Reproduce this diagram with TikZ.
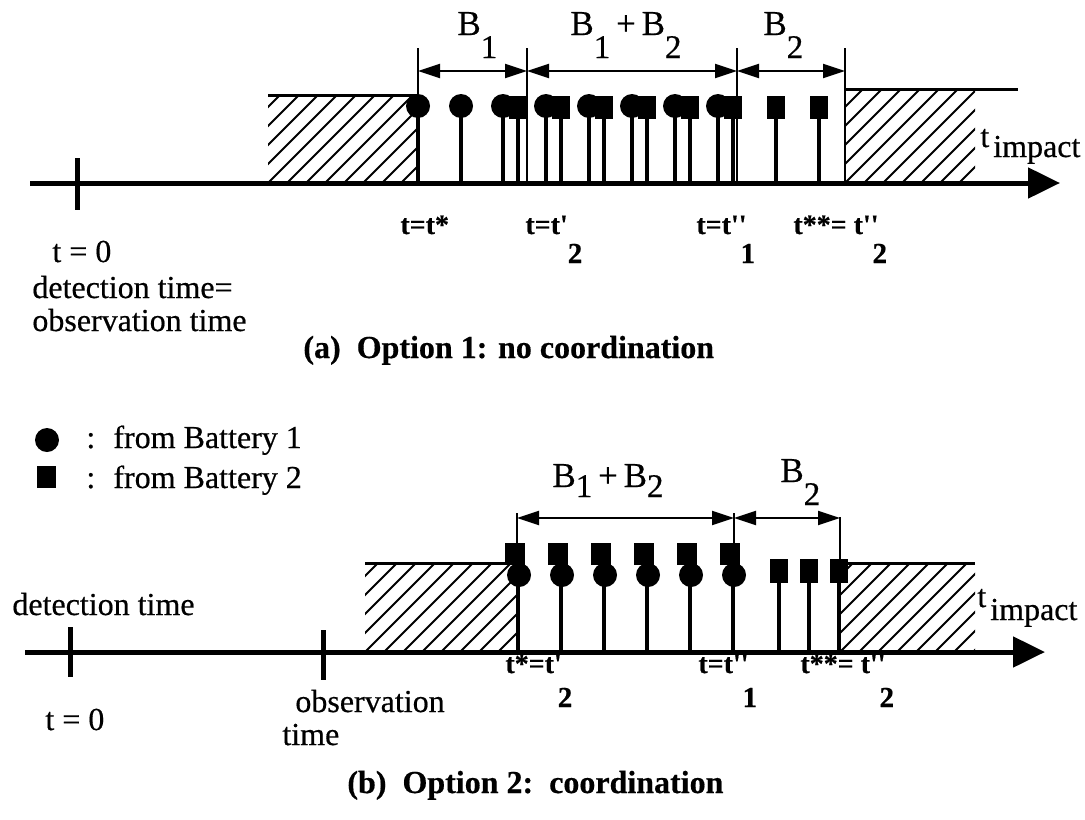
\documentclass[tikz,border=0pt]{standalone}
\usepackage{fontspec}
\setmainfont{Liberation Serif}[FakeBold=0.5]
\usetikzlibrary{arrows.meta}
\newcommand{\dn}[2]{\raisebox{#1}{#2}}
\newcommand{\qs}{\textquotesingle}
\begin{document}
\begin{tikzpicture}[x=0.5pt,y=-0.5pt,
  lbl/.style={inner sep=0pt, anchor=base west, font=\fontsize{16pt}{19pt}\selectfont},
  blbl/.style={inner sep=0pt, anchor=base west, font=\fontsize{17.5pt}{20pt}\selectfont},
  tlbl/.style={inner sep=0pt, anchor=base west, font=\fontsize{14pt}{16pt}\selectfont\bfseries},
  captxt/.style={inner sep=0pt, anchor=base west, font=\fontsize{16pt}{19pt}\selectfont\bfseries},
  axisline/.style={line width=2.5pt, -{Triangle[length=16pt,width=15pt]}},
  tickline/.style={line width=2.5pt},
  stem/.style={line width=2pt},
  dimline/.style={line width=1pt},
  dimarrow/.style={line width=1pt, {Triangle[length=11pt,width=7pt]}-{Triangle[length=11pt,width=7pt]}},
  hatch/.style={line width=1pt},
  boxtop/.style={line width=1.5pt},
]
\useasboundingbox (0,0) rectangle (1085,819);
\newcommand{\sub}[2]{\dn{#1}{\fontsize{14.5pt}{16pt}\selectfont #2}}
\newcommand{\bsub}[2]{\dn{#1}{\fontsize{16.5pt}{18pt}\selectfont #2}}

% ================= (a) =================
\begin{scope}
  \clip (268,95) rectangle (418,183);
  \foreach \k in {-6,...,9} \draw[hatch] (268+19*\k,183) -- ++(110,-110);
\end{scope}
\draw[boxtop] (268,95) -- (418,95);
\begin{scope}
  \clip (845,89) rectangle (975,183);
  \foreach \k in {-6,...,8} \draw[hatch] (845+19*\k,183) -- ++(110,-110);
\end{scope}
\draw[boxtop] (845,89) -- (1018,89);

% dimension lines
\foreach \x in {418,527,737,845} \draw[dimline] (\x,48) -- (\x,183);
\coordinate (a1) at (418,71);
\coordinate (a2) at (527,71);
\coordinate (a3) at (737,71);
\coordinate (a4) at (845,71);
\draw[dimarrow] (a1) -- (a2);
\draw[dimarrow] (a2) -- (a3);
\draw[dimarrow] (a3) -- (a4);

% stems: battery 1 (circles)
\foreach \x in {418,461,503,546,589,632,675,718} {
  \draw[stem] (\x,106) -- (\x,183);
  \fill (\x,106) circle[radius=6pt];
}
% stems: battery 2 (squares)
\foreach \x in {518,561,604,647,690,733,776,819} {
  \draw[stem] (\x,107) -- (\x,183);
  \fill (\x-9,96) rectangle (\x+9,119);
}

% axis
\coordinate (axAs) at (30,183);
\coordinate (axAe) at (1060,183);
\draw[axisline] (axAs) -- (axAe);
\draw[tickline] (77,158) -- (77,210);

% labels
\node[blbl] (lB1) at (457,35) {B\bsub{-11.5pt}{1}};
\node[blbl] (lB12) at (570,35) {B\bsub{-11.5pt}{1}\,+\,B\bsub{-11.5pt}{2}};
\node[blbl] (lB2) at (763,35) {B\bsub{-11.5pt}{2}};
\node[lbl] (timpA) at (980,147) {t\kern2pt\dn{-5pt}{impact}};

\node[tlbl] (ta1) at (400,234) {t=t*};
\node[tlbl] (ta2) at (525,234) {t=t\qs\sub{-14.5pt}{2}};
\node[tlbl] (ta3) at (696,234) {t=t\qs\qs\kern-3pt\sub{-14.5pt}{1}};
\node[tlbl] (ta4) at (793,234) {t**= t\qs\qs\kern-3pt\sub{-14.5pt}{2}};

\node[lbl] (t0a) at (52,262) {t = 0};
\node[lbl] (deta) at (32,298) {detection time=};
\node[lbl] (obsa) at (32,331) {observation time};
\node[captxt] (capa) at (303,358) {(a)\ \ Option 1: no coordination};

% legend
\fill (47,440) circle[radius=6pt];
\node[lbl] (lc1) at (86,448) {:};
\node[lbl] (lt1) at (113,448) {from Battery 1};
\fill (37,466) rectangle (56,488);
\node[lbl] (lc2) at (86,488) {:};
\node[lbl] (lt2) at (113,488) {from Battery 2};

% ================= (b) =================
\begin{scope}
  \clip (365,563) rectangle (517,652);
  \foreach \k in {-6,...,9} \draw[hatch] (365+19*\k,652) -- ++(110,-110);
\end{scope}
\draw[boxtop] (365,563) -- (517,563);
\begin{scope}
  \clip (840,563) rectangle (975,652);
  \foreach \k in {-6,...,8} \draw[hatch] (840+19*\k,652) -- ++(110,-110);
\end{scope}
\draw[boxtop] (840,563) -- (975,563);

\draw[dimline] (517,513) -- (517,652);
\draw[dimline] (734,513) -- (734,652);
\draw[dimline] (840,517) -- (840,652);
\coordinate (b1) at (517,518);
\coordinate (b2) at (734,518);
\coordinate (b3) at (840,518);
\draw[dimarrow] (b1) -- (b2);
\draw[dimarrow] (b2) -- (b3);

% combined stems
\foreach \x in {517,560,603,646,689,732} {
  \draw[stem] (\x+1,575) -- (\x+1,652);
  \fill (\x-12,543) rectangle (\x+8,565);
  \fill (\x+2,575) circle[radius=6pt];
}
\foreach \x in {779,809,839} {
  \draw[stem] (\x,572) -- (\x,652);
  \fill (\x-9,559) rectangle (\x+9,583);
}

\coordinate (axBs) at (25,652);
\coordinate (axBe) at (1045,652);
\draw[axisline] (axBs) -- (axBe);
\draw[tickline] (70,627) -- (70,677);
\draw[tickline] (323,630) -- (323,680);

\node[blbl] (lB12b) at (552,487) {B\bsub{-5pt}{1}\,+\,B\bsub{-5pt}{2}};
\node[blbl] (lB2b) at (780,482) {B\bsub{-11.5pt}{2}};
\node[lbl] (timpB) at (977,607) {t\kern2pt\dn{-6.5pt}{impact}};

\node[tlbl] (tb1) at (505,673) {t*=t\qs\kern-2pt\sub{-17pt}{2}};
\node[tlbl] (tb2) at (698,673) {t=t\qs\qs\kern-3pt\sub{-17pt}{1}};
\node[tlbl] (tb3) at (800,673) {t**= t\qs\qs\kern-3pt\sub{-17pt}{2}};

\node[lbl] (detb) at (12,615) {detection time};
\node[lbl] (t0b) at (45,730) {t = 0};
\node[lbl] (obsb) at (295,712) {observation};
\node[lbl] (timeb) at (282,745) {time};
\node[captxt] (capb) at (347,793) {(b)\ \ Option 2:\ \ coordination};
\end{tikzpicture}
\end{document}
